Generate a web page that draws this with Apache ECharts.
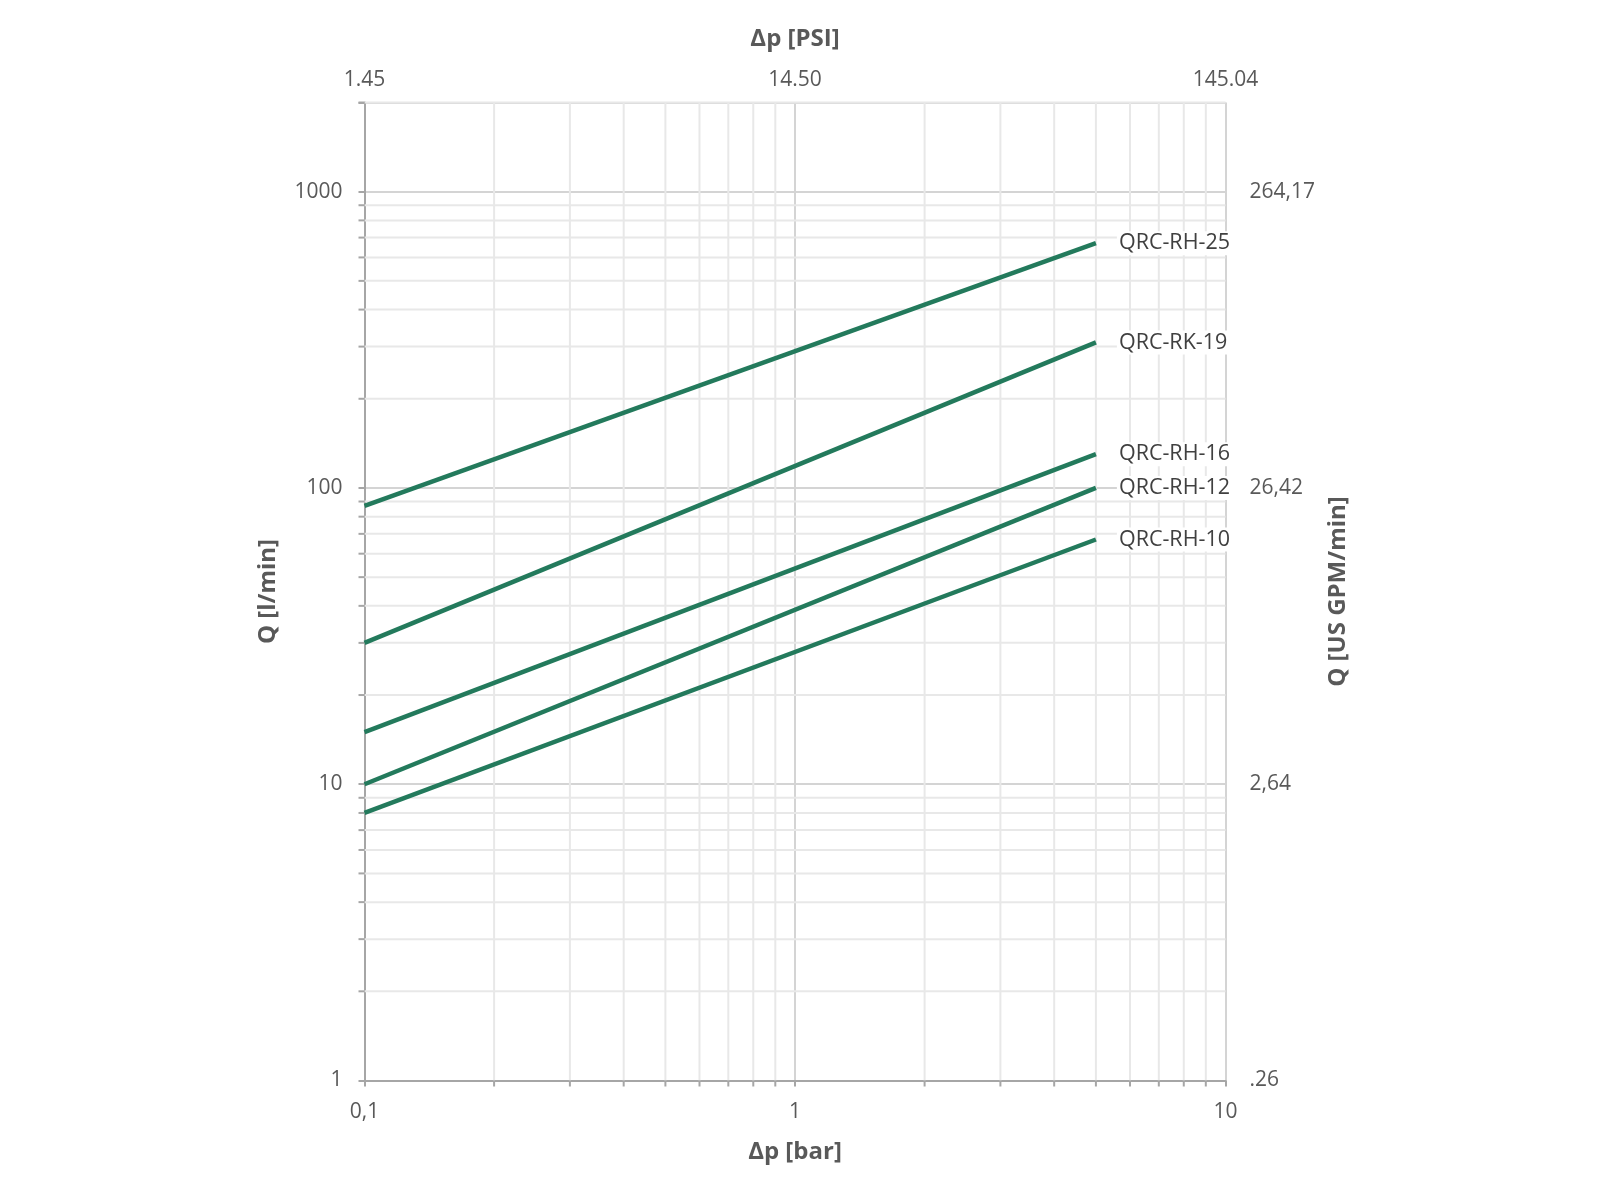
<!DOCTYPE html>
<html>
<head>
<meta charset="utf-8">
<script src="https://cdn.jsdelivr.net/npm/echarts@6/dist/echarts.min.js"></script>
<style>
html,body{margin:0;padding:0;background:#fff;}
#chart{width:1600px;height:1200px;}
</style>
</head>
<body>
<div id="chart"></div>
<script>
// ---- data ----
const pressureBar = [0.1, 5];
const seriesNames = ['QRC-RH-25', 'QRC-RK-19', 'QRC-RH-16', 'QRC-RH-12', 'QRC-RH-10'];
const flowRH25 = [87, 670];
const flowRK19 = [30, 310];
const flowRH16 = [15, 130];
const flowRH12 = [10, 100];
const flowRH10 = [8, 67];

const xTicksBar = [0.1, 1, 10];
const xLabelsBar = ['0,1', '1', '10'];
const xLabelsPsi = ['1.45', '14.50', '145.04'];
const yTicksLmin = [1, 10, 100, 1000];
const yLabelsLmin = ['1', '10', '100', '1000'];
const yLabelsGpm = ['.26', '2,64', '26,42', '264,17'];
const xMinor = [0.2, 0.3, 0.4, 0.5, 0.6, 0.7, 0.8, 0.9, 2, 3, 4, 5, 6, 7, 8, 9];
const yMinor = [2, 3, 4, 5, 6, 7, 8, 9, 20, 30, 40, 50, 60, 70, 80, 90, 200, 300, 400, 500, 600, 700, 800, 900, 2000];

const X_MIN = 0.1, X_MAX = 10, Y_MIN = 1, Y_MAX = 2000;

function mapLabel(ticks, labels) {
  return function (v) {
    for (let i = 0; i < ticks.length; i++) {
      if (Math.abs(Math.log10(v) - Math.log10(ticks[i])) < 1e-6) return labels[i];
    }
    return '';
  };
}

const FONT = 'Open Sans';
const LABEL_COLOR = '#595959';
const AXIS_COLOR = '#a6a6a6';
const MAJOR_GRID = '#d4d4d4';
const MINOR_GRID = '#e8e8e8';
const LINE_COLOR = '#237a5c';

const flows = [flowRH25, flowRK19, flowRH16, flowRH12, flowRH10];

const lineSeries = seriesNames.map((name, k) => ({
  name: name,
  type: 'line',
  xAxisIndex: 0,
  yAxisIndex: 0,
  data: pressureBar.map((p, i) => [p, flows[k][i]]),
  symbol: 'none',
  lineStyle: { color: LINE_COLOR, width: 4.5 },
  z: 10,
  endLabel: {
    show: true,
    formatter: '{a}',
    distance: 21,
    color: '#404040',
    fontFamily: FONT,
    fontSize: 21.5,
    backgroundColor: '#ffffff',
    padding: [1, 2]
  }
}));

const minorXSeries = {
  type: 'custom',
  xAxisIndex: 0,
  yAxisIndex: 0,
  silent: true,
  clip: false,
  z: 1,
  data: xMinor.map(v => [v, Y_MIN]),
  renderItem: function (params, api) {
    const v = api.value(0);
    const bot = api.coord([v, Y_MIN]);
    const top = api.coord([v, Y_MAX]);
    return {
      type: 'group',
      children: [
        { type: 'line', shape: { x1: bot[0], y1: bot[1], x2: top[0], y2: top[1] },
          style: { stroke: MINOR_GRID, lineWidth: 2 } },
        { type: 'line', shape: { x1: bot[0], y1: bot[1], x2: bot[0], y2: bot[1] + 6 },
          style: { stroke: AXIS_COLOR, lineWidth: 2 } }
      ]
    };
  }
};

const minorYSeries = {
  type: 'custom',
  xAxisIndex: 0,
  yAxisIndex: 0,
  silent: true,
  clip: false,
  z: 1,
  data: yMinor.map(v => [X_MIN, v]),
  renderItem: function (params, api) {
    const v = api.value(1);
    const l = api.coord([X_MIN, v]);
    const r = api.coord([X_MAX, v]);
    return {
      type: 'group',
      children: [
        { type: 'line', shape: { x1: l[0], y1: l[1], x2: r[0], y2: r[1] },
          style: { stroke: MINOR_GRID, lineWidth: 2 } },
        { type: 'line', shape: { x1: l[0] - 6, y1: l[1], x2: l[0], y2: l[1] },
          style: { stroke: AXIS_COLOR, lineWidth: 2 } }
      ]
    };
  }
};

const nameStyle = { color: LABEL_COLOR, fontFamily: FONT, fontSize: 24, fontWeight: 'bold' };
const tickLabelStyle = { color: LABEL_COLOR, fontFamily: FONT, fontSize: 21 };

const option = {
  backgroundColor: '#ffffff',
  animation: false,
  grid: { left: 364.5, right: 374.5, top: 102.5, bottom: 119.5, containLabel: false },
  xAxis: [
    {
      type: 'log', logBase: 10, min: X_MIN, max: X_MAX, position: 'bottom',
      name: 'Δp [bar]', nameLocation: 'middle', nameGap: 60, nameTextStyle: nameStyle,
      axisLine: { show: true, lineStyle: { color: AXIS_COLOR, width: 2 } },
      axisTick: { show: true, length: 6, lineStyle: { color: AXIS_COLOR, width: 2 } },
      axisLabel: Object.assign({ margin: 21, formatter: mapLabel(xTicksBar, xLabelsBar) }, tickLabelStyle),
      splitLine: { show: true, lineStyle: { color: MAJOR_GRID, width: 2 } },
      minorTick: { show: false }, minorSplitLine: { show: false }
    },
    {
      type: 'log', logBase: 10, min: X_MIN, max: X_MAX, position: 'top',
      name: 'Δp [PSI]', nameLocation: 'middle', nameGap: 51, nameTextStyle: nameStyle,
      axisLine: { show: false },
      axisTick: { show: false },
      axisLabel: Object.assign({ margin: 12, formatter: mapLabel(xTicksBar, xLabelsPsi) }, tickLabelStyle),
      splitLine: { show: false }
    }
  ],
  yAxis: [
    {
      type: 'log', logBase: 10, min: Y_MIN, max: Y_MAX, position: 'left',
      name: 'Q [l/min]', nameLocation: 'middle', nameGap: 84, nameRotate: 90, nameTextStyle: nameStyle,
      axisLine: { show: true, lineStyle: { color: AXIS_COLOR, width: 2 } },
      axisTick: { show: true, length: 6, lineStyle: { color: AXIS_COLOR, width: 2 } },
      axisLabel: Object.assign({ margin: 22, formatter: mapLabel(yTicksLmin, yLabelsLmin) }, tickLabelStyle),
      splitLine: { show: true, lineStyle: { color: MAJOR_GRID, width: 2 } }
    },
    {
      type: 'log', logBase: 10, min: Y_MIN, max: Y_MAX, position: 'right',
      name: 'Q [US GPM/min]', nameLocation: 'middle', nameGap: 99, nameRotate: 90, nameTextStyle: nameStyle,
      axisLine: { show: false },
      axisTick: { show: false },
      axisLabel: Object.assign({ margin: 24, formatter: mapLabel(yTicksLmin, yLabelsGpm) }, tickLabelStyle),
      splitLine: { show: false }
    }
  ],
  series: [minorXSeries, minorYSeries].concat(lineSeries)
};

const chart = echarts.init(document.getElementById('chart'), null, { renderer: 'canvas' });
chart.setOption(option);
</script>
</body>
</html>
